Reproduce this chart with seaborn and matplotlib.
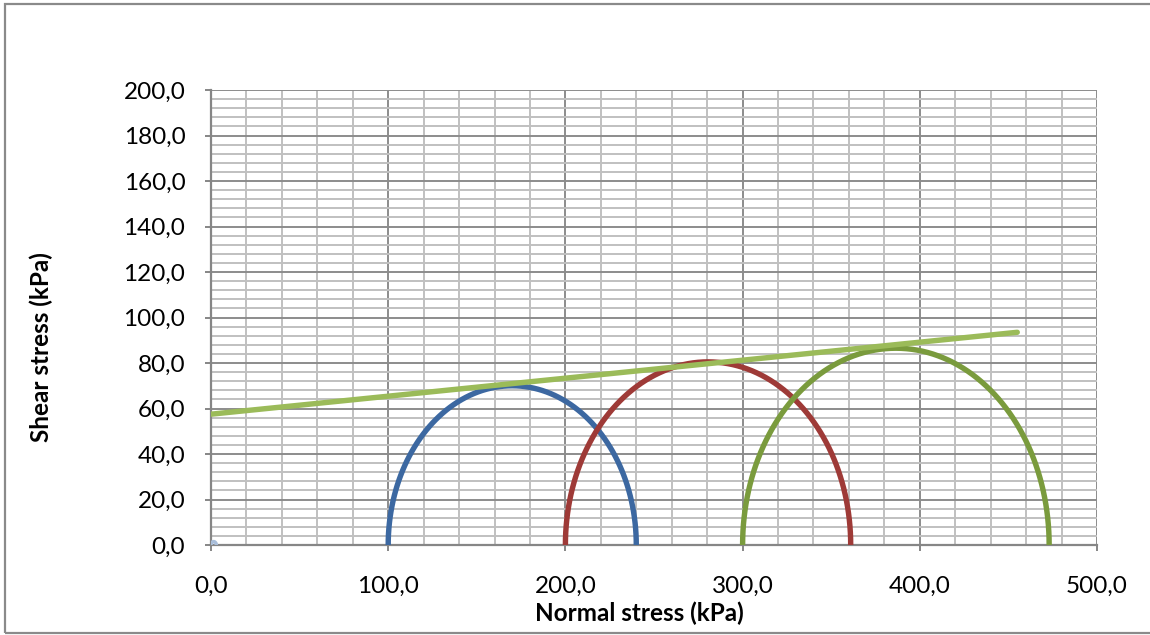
import numpy as np
import pandas as pd
import matplotlib
matplotlib.use("Agg")
import matplotlib.pyplot as plt
import seaborn as sns
from matplotlib.ticker import MultipleLocator, FuncFormatter
from matplotlib.patches import Rectangle

# Mohr circles: minor / major principal stresses (kPa)
circle_names = ["Test 1", "Test 2", "Test 3"]
sigma3 = [100.0, 200.0, 300.0]
sigma1 = [240.0, 361.0, 473.0]
circle_colors = ["#3C68A1", "#9E3A37", "#7A9B3D"]

# Small reference circle at the origin
origin_sigma3 = [0.0]
origin_sigma1 = [3.0]

# Failure envelope end points (normal stress, shear stress)
env_sigma = [0.0, 455.0]
env_tau = [57.5, 93.5]

sns.set_theme(style="white")
plt.rcParams["font.family"] = ["Lato", "DejaVu Sans"]

fig = plt.figure(figsize=(11.5, 6.35), dpi=100)
ax = fig.add_axes([211 / 1150, 1 - 545 / 635, 886 / 1150, 455 / 635])

# Build circle outlines as a long table
rows = []
theta = np.linspace(np.pi, 0, 181)
for name, s3, s1 in zip(circle_names, sigma3, sigma1):
    c = (s1 + s3) / 2
    r = (s1 - s3) / 2
    for t in theta:
        rows.append({"test": name, "sigma": c + r * np.cos(t), "tau": r * np.sin(t)})
circles = pd.DataFrame(rows)

orows = []
for s3, s1 in zip(origin_sigma3, origin_sigma1):
    c = (s1 + s3) / 2
    r = (s1 - s3) / 2
    for t in theta:
        orows.append({"sigma": c + r * np.cos(t), "tau": r * np.sin(t)})
origin_df = pd.DataFrame(orows)

env = pd.DataFrame({"sigma": env_sigma, "tau": env_tau})

sns.lineplot(data=origin_df, x="sigma", y="tau", sort=False, color="#A9BEDA",
             linewidth=2.5, ax=ax, zorder=3)
sns.lineplot(data=circles, x="sigma", y="tau", hue="test", sort=False,
             palette=circle_colors, linewidth=3.9, ax=ax, legend=False, zorder=4,
             estimator=None, units="test")
sns.lineplot(data=env, x="sigma", y="tau", color="#9BBB59", linewidth=3.9,
             ax=ax, zorder=5, solid_capstyle="round")

ax.set_xlim(0, 500)
ax.set_ylim(0, 200)
ax.xaxis.set_major_locator(MultipleLocator(100))
ax.xaxis.set_minor_locator(MultipleLocator(20))
ax.yaxis.set_major_locator(MultipleLocator(20))
ax.yaxis.set_minor_locator(MultipleLocator(4))

fmt = FuncFormatter(lambda v, p: f"{v:.1f}".replace(".", ","))
ax.xaxis.set_major_formatter(fmt)
ax.yaxis.set_major_formatter(fmt)

ax.grid(which="major", color="#8C8C8C", linewidth=1.4, zorder=1)
ax.grid(which="minor", color="#C0C0C0", linewidth=1.4, zorder=0)
ax.set_axisbelow(True)

for side in ["top", "right"]:
    ax.spines[side].set_visible(False)
for side in ["left", "bottom"]:
    ax.spines[side].set_color("#868686")
    ax.spines[side].set_linewidth(1.6)

ax.tick_params(axis="both", which="major", length=4.5, width=1.4, color="#868686",
               labelsize=17.5, labelcolor="#000000")
ax.tick_params(axis="y", which="major", left=True, pad=14)
ax.tick_params(axis="x", which="major", bottom=True, pad=18)
ax.tick_params(which="minor", length=0)

ax.set_xlabel("Normal stress (kPa)", fontsize=17.5, fontweight="bold", color="#000000")
ax.set_ylabel("Shear stress (kPa)", fontsize=17.5, fontweight="bold", color="#000000")
ax.xaxis.set_label_coords(0.4836, -0.125)
ax.yaxis.set_label_coords(-0.178, 0.435)

# Chart area border
fig.patches.append(Rectangle((5 / 1150, 2 / 635), 1.2, 1 - 6 / 635,
                             transform=fig.transFigure, fill=False,
                             edgecolor="#8A8A8A", linewidth=1.6, clip_on=False))

fig.savefig("out.png", dpi=100, facecolor="white")
